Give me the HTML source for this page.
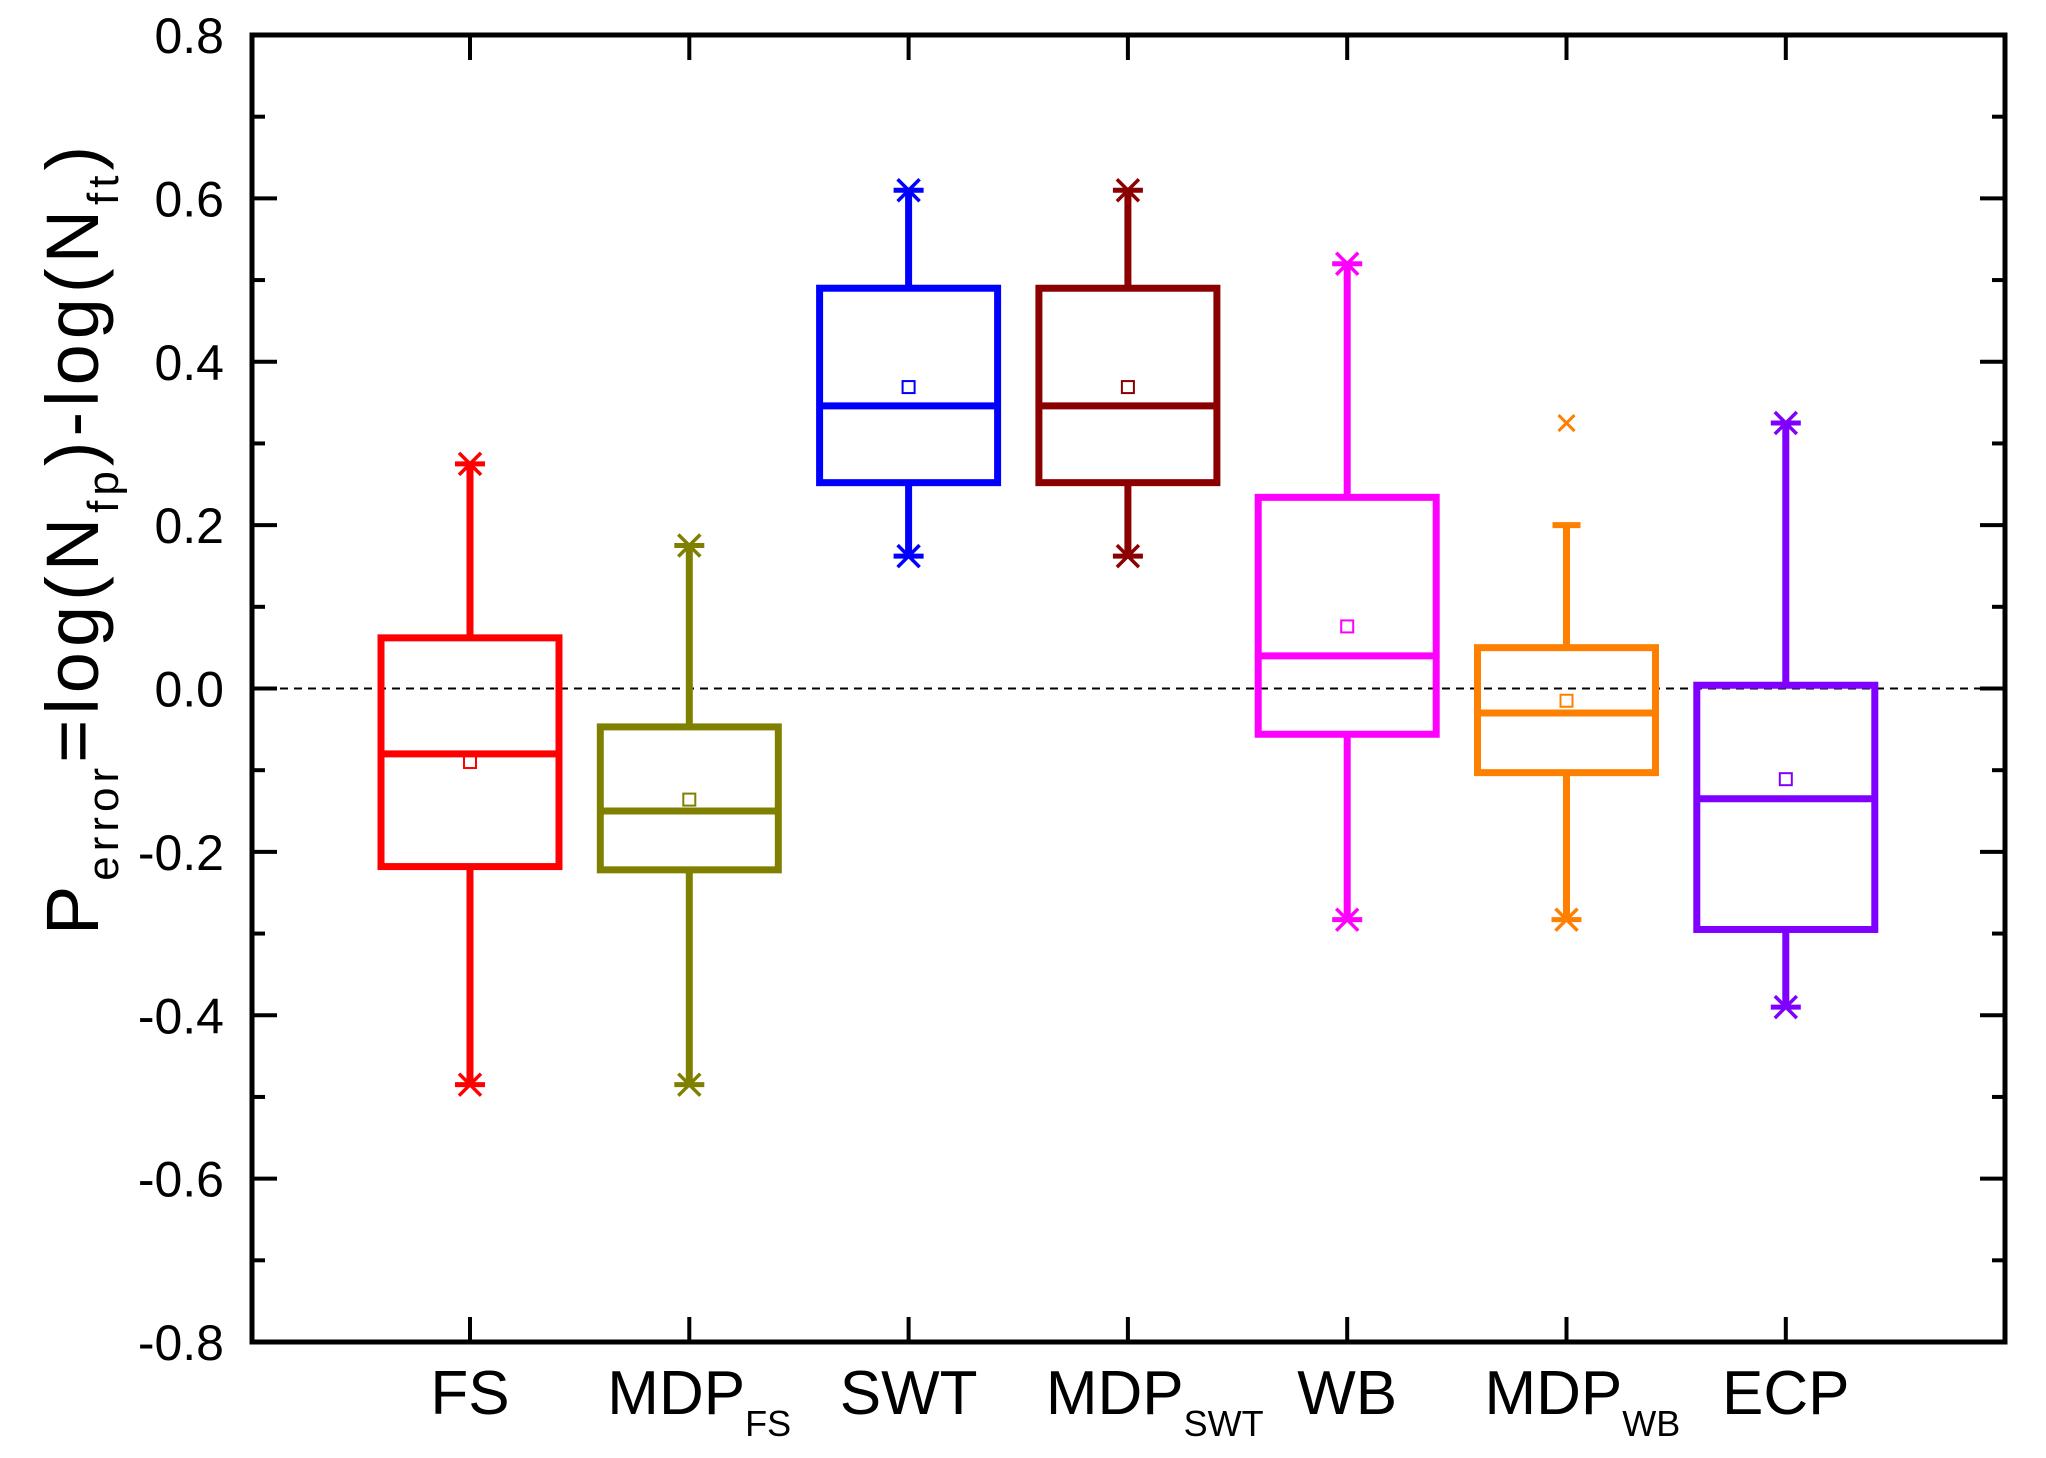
<!DOCTYPE html>
<html><head><meta charset="utf-8"><style>
html,body{margin:0;padding:0;background:#fff;}
svg{display:block;font-family:"Liberation Sans",Arial,sans-serif;}
</style></head><body>
<svg id="chart" width="2046" height="1458" viewBox="0 0 2046 1458">
<g id="plot"></g>
</svg>
<script>
const categories=["FS","MDP_FS","SWT","MDP_SWT","WB","MDP_WB","ECP"];
const colors=["#ff0000","#808000","#0000ff","#8b0000","#ff00ff","#ff8000","#8000ff"];
const maxVals=[0.275,0.175,0.61,0.61,0.52,0.2,0.325];
const q3Vals=[0.062,-0.047,0.49,0.49,0.234,0.05,0.004];
const medVals=[-0.08,-0.15,0.346,0.346,0.04,-0.03,-0.135];
const q1Vals=[-0.218,-0.222,0.252,0.252,-0.056,-0.103,-0.295];
const minVals=[-0.485,-0.485,0.162,0.162,-0.283,-0.283,-0.39];
const meanVals=[-0.09,-0.136,0.369,0.369,0.076,-0.015,-0.111];
const maxStar=[true,true,true,true,true,false,true];
const outliers=[[5,0.325]];
const yTicks=[0.8,0.6,0.4,0.2,0.0,-0.2,-0.4,-0.6,-0.8];

const NS="http://www.w3.org/2000/svg";
const L=252,R=2005,T=35,B=1342;
const yMin=-0.8,yMax=0.8;
function y(v){return B-(v-yMin)/(yMax-yMin)*(B-T);}
function x(i){return 470+i*219.3;}
const g=document.getElementById('plot');
function el(tag,attrs,parent){const e=document.createElementNS(NS,tag);for(const k in attrs)e.setAttribute(k,attrs[k]);(parent||g).appendChild(e);return e;}

const zl=el('line',{x1:L,x2:R,y1:y(0),y2:y(0),stroke:'#000','stroke-width':2,'stroke-dasharray':'8,6'});



for(let k=0;k<=16;k++){
  const v=-0.8+k*0.1;const yy=y(v);const major=k%2===0;const len=major?25:13;
  const t1=el('line',{x1:L,x2:L+len,y1:yy,y2:yy,stroke:'#000','stroke-width':4});
  
  
  const t2=el('line',{x1:R,x2:R-len,y1:yy,y2:yy,stroke:'#000','stroke-width':4});
  
  
}
yTicks.forEach(v=>{
  const t=el('text',{x:224,y:y(v)+18,'text-anchor':'end','font-size':50,fill:'#000'});
  t.textContent=v.toFixed(1);
  
  
});
categories.forEach((c,i)=>{
  const xx=x(i);
  const a=el('line',{x1:xx,x2:xx,y1:B,y2:B-25,stroke:'#000','stroke-width':4});
  
  
  const b=el('line',{x1:xx,x2:xx,y1:T,y2:T+25,stroke:'#000','stroke-width':4});
  
  
  const parts=c.split('_');
  const t=el('text',{x:xx,y:1414,'text-anchor':'middle','font-size':62,fill:'#000'});
  
  
  if(parts.length>1){
    t.setAttribute('text-anchor','start');
    t.setAttribute('x',xx-82);
    const s1=el('tspan',{},t);s1.textContent=parts[0];
    const s2=el('tspan',{'font-size':36,dy:22},t);s2.textContent=parts[1];
  } else t.textContent=c;
});

const hw=89;
categories.forEach((c,i)=>{
  const col=colors[i];const xx=x(i);
  const grp=el('g',{stroke:col,'stroke-width':7,fill:'none'});
  
  
  el('line',{x1:xx,x2:xx,y1:y(maxVals[i]),y2:y(q3Vals[i])},grp);
  el('line',{x1:xx,x2:xx,y1:y(q1Vals[i]),y2:y(minVals[i])},grp);
  el('rect',{x:xx-hw,y:y(q3Vals[i]),width:2*hw,height:y(q1Vals[i])-y(q3Vals[i])},grp);
  el('line',{x1:xx-hw,x2:xx+hw,y1:y(medVals[i]),y2:y(medVals[i])},grp);
  function star(v){const yy=y(v);
    el('line',{x1:xx-15,x2:xx+15,y1:yy,y2:yy,'stroke-width':5},grp);
    el('line',{x1:xx-11,x2:xx+11,y1:yy-11,y2:yy+11,'stroke-width':3.5},grp);
    el('line',{x1:xx-11,x2:xx+11,y1:yy+11,y2:yy-11,'stroke-width':3.5},grp);}
  if(maxStar[i])star(maxVals[i]);else el('line',{x1:xx-14,x2:xx+14,y1:y(maxVals[i]),y2:y(maxVals[i]),'stroke-width':6},grp);
  star(minVals[i]);
  el('rect',{x:xx-6,y:y(meanVals[i])-6,width:12,height:12,'stroke-width':2},grp);
});
outliers.forEach(o=>{
  const xx=x(o[0]),yy=y(o[1]);
  const og=el('g',{stroke:colors[o[0]],'stroke-width':3});
  
  
  el('line',{x1:xx-8,x2:xx+8,y1:yy-8,y2:yy+8},og);
  el('line',{x1:xx-8,x2:xx+8,y1:yy+8,y2:yy-8},og);
});

const fr=el('rect',{x:L,y:T,width:R-L,height:B-T,fill:'none',stroke:'#000','stroke-width':5});



const yl=el('text',{transform:'translate(98,538) rotate(-90)','text-anchor':'middle','font-size':74,fill:'#000','letter-spacing':5});


const segs=[["P",0,74],["error",20,44],["=log(N",-20,74],["fp",20,44],[")-log(N",-20,74],["ft",20,44],[")",-20,74]];
segs.forEach(s=>{const sp=el('tspan',{dy:s[1],'font-size':s[2]},yl);sp.textContent=s[0];});
</script>
</body></html>
